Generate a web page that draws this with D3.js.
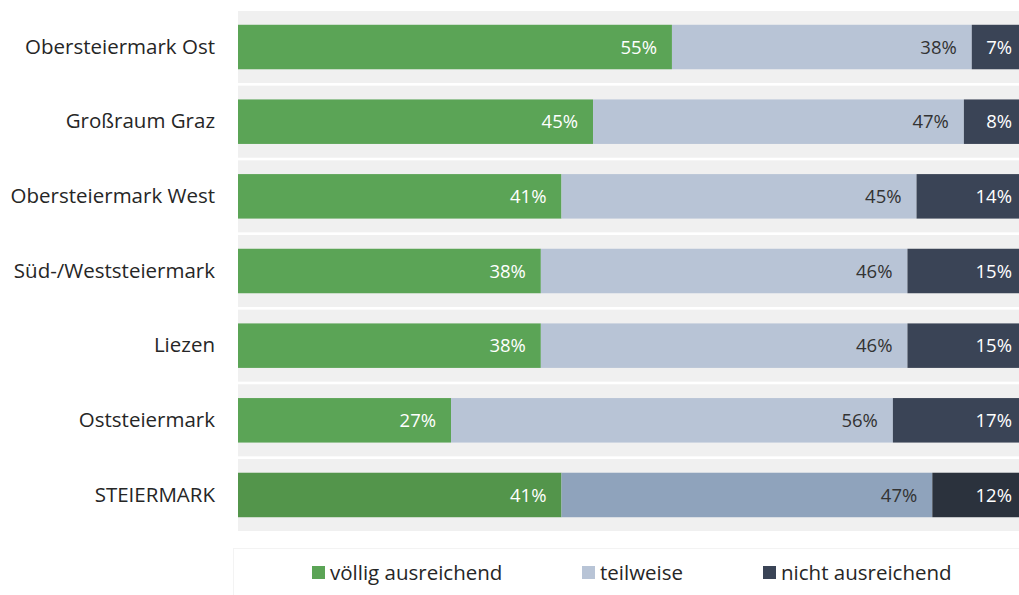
<!DOCTYPE html>
<html>
<head>
<meta charset="utf-8">
<script src="https://cdn.jsdelivr.net/npm/d3@7"></script>
<style>
  html, body { margin: 0; padding: 0; background: #ffffff; }
  svg { display: block; font-family: "Open Sans", "Noto Sans", sans-serif; }
</style>
</head>
<body>
<svg id="chart" width="1019" height="595"></svg>
<script>
// Regions (top to bottom) and the share of answers per category, in percent
const regions = [
  "Obersteiermark Ost",
  "Großraum Graz",
  "Obersteiermark West",
  "Süd-/Weststeiermark",
  "Liezen",
  "Oststeiermark",
  "STEIERMARK"
];
const seriesNames = ["völlig ausreichend", "teilweise", "nicht ausreichend"];
const voellig   = [55, 45, 41, 38, 38, 27, 41];
const teilweise = [38, 47, 45, 46, 46, 56, 47];
const nicht     = [7, 8, 14, 15, 15, 17, 12];

const colors = {
  region: ["#5ba456", "#b8c4d6", "#3a4456"],
  total:  ["#53954b", "#8fa3bc", "#2b323d"]
};
const labelColors = ["#ffffff", "#333333", "#ffffff"];

const rows = regions.map((r, i) => ({
  region: r,
  [seriesNames[0]]: voellig[i],
  [seriesNames[1]]: teilweise[i],
  [seriesNames[2]]: nicht[i]
}));

const svg = d3.select("#chart");
const plot = { left: 238, right: 1027, top: 11, bottom: 531 };

const y = d3.scaleBand()
  .domain(regions)
  .range([plot.top, plot.bottom])
  .paddingInner(0.035)
  .paddingOuter(0);

const x = d3.scaleLinear().domain([0, 1]).range([plot.left, plot.right]);

// Each bar is normalised to 100 %
const stacked = d3.stack()
  .keys(seriesNames)
  .offset(d3.stackOffsetExpand)(rows);

const barH = 44.5;

// Light background band behind every row
svg.append("g")
  .selectAll("rect")
  .data(regions)
  .join("rect")
  .attr("x", plot.left)
  .attr("y", d => y(d))
  .attr("width", 1019 - plot.left)
  .attr("height", y.bandwidth())
  .attr("fill", "#f0f0f0");

const colorFor = (si, region) =>
  (region === "STEIERMARK" ? colors.total : colors.region)[si];

const layers = svg.append("g")
  .selectAll("g")
  .data(stacked)
  .join("g");

layers.selectAll("rect")
  .data((s, si) => s.map(d => ({ d, si })))
  .join("rect")
  .attr("x", o => x(o.d[0]))
  .attr("y", o => y(o.d.data.region) + y.bandwidth() / 2 - barH / 2)
  .attr("width", o => x(o.d[1]) - x(o.d[0]))
  .attr("height", barH)
  .attr("fill", o => colorFor(o.si, o.d.data.region));

// Value labels, placed inside the end of each segment
layers.selectAll("text")
  .data((s, si) => s.map(d => ({ d, si, key: s.key })))
  .join("text")
  .attr("x", o => x(o.d[1]) - 15)
  .attr("y", o => y(o.d.data.region) + y.bandwidth() / 2)
  .attr("dy", "0.36em")
  .attr("text-anchor", "end")
  .attr("font-size", 18.5)
  .attr("fill", o => labelColors[o.si])
  .text(o => o.d.data[o.key] + "%");

// Category axis on the left
const yAxis = d3.axisLeft(y).tickSize(0).tickPadding(23);
const ax = svg.append("g")
  .attr("transform", `translate(${plot.left},0)`)
  .call(yAxis);
ax.select(".domain").remove();
ax.selectAll("text")
  .attr("font-size", 20.5)
  .attr("fill", "#262626")
  .attr("font-family", "'Open Sans', 'Noto Sans', sans-serif");

// Legend
const legend = svg.append("g");
legend.append("rect")
  .attr("x", 233.5)
  .attr("y", 548.5)
  .attr("width", 790)
  .attr("height", 60)
  .attr("fill", "#ffffff")
  .attr("stroke", "#f3f3f3");

const legendX = [312, 582, 763];
const items = legend.selectAll("g.item")
  .data(seriesNames)
  .join("g")
  .attr("class", "item")
  .attr("transform", (d, i) => `translate(${legendX[i]},566)`);
items.append("rect")
  .attr("width", 13)
  .attr("height", 13)
  .attr("fill", (d, i) => colors.region[i]);
items.append("text")
  .attr("x", 18)
  .attr("y", 6.5)
  .attr("dy", "0.36em")
  .attr("font-size", 20.5)
  .attr("fill", "#262626")
  .text(d => d);
</script>
</body>
</html>
